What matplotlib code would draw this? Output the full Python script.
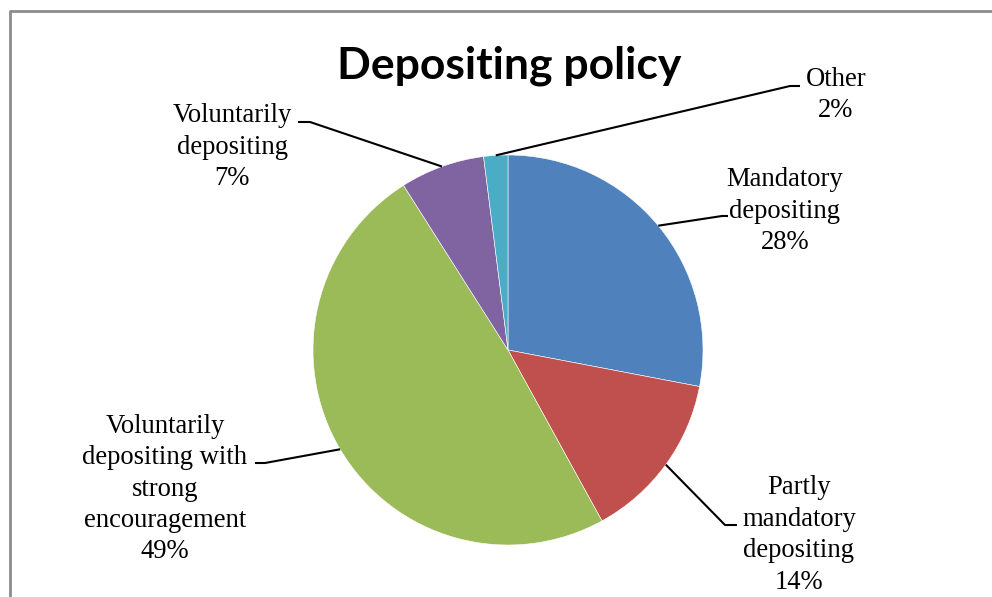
import numpy as np
import matplotlib
matplotlib.use("Agg")
import matplotlib.pyplot as plt
from matplotlib.lines import Line2D

# ---- data ----
categories = ["Mandatory\ndepositing", "Partly\nmandatory\ndepositing",
              "Voluntarily\ndepositing with\nstrong\nencouragement",
              "Voluntarily\ndepositing", "Other"]
values = [28, 14, 49, 7, 2]
colors = ["#4F81BD", "#C0504D", "#9BBB59", "#8064A2", "#4BACC6"]
title = "Depositing policy"

# ---- layout (pixel space, y up) ----
W, H = 992, 597
fig = plt.figure(figsize=(W / 100, H / 100), dpi=100)
ax = fig.add_axes([0, 0, 1, 1])

cx, cy, R = 508, H - 350, 195
wedges, _ = ax.pie(values, colors=colors, startangle=90, counterclock=False,
                   center=(cx, cy), radius=R, frame=True,
                   wedgeprops=dict(linewidth=0.4, edgecolor="white"))
ax.set_xlim(0, W)
ax.set_ylim(0, H)
ax.set_aspect("equal")
ax.axis("off")

# label text positions (center), elbow point, elbow end
label_pos = [
    dict(text=(785, H - 211), elbow=(722, H - 216), end=(728, H - 216)),
    dict(text=(799, H - 535), elbow=(725, H - 525), end=(737, H - 525)),
    dict(text=(165, H - 489), elbow=(265, H - 463), end=(255, H - 463)),
    dict(text=(232, H - 147), elbow=(310, H - 122), end=(298, H - 122)),
    dict(text=(836, H - 95), elbow=(790, H - 86), end=(800, H - 86)),
]

cum = np.cumsum([0] + values) / sum(values)
for i, (cat, v) in enumerate(zip(categories, values)):
    mid = (cum[i] + cum[i + 1]) / 2
    ang = np.deg2rad(90 - 360 * mid)
    sx, sy = cx + R * np.cos(ang), cy + R * np.sin(ang)
    lp = label_pos[i]
    ax.plot([sx, lp["elbow"][0], lp["end"][0]], [sy, lp["elbow"][1], lp["end"][1]],
            color="black", lw=1.5, solid_capstyle="butt")
    ax.text(lp["text"][0], lp["text"][1], f"{cat}\n{v}%", ha="center", va="center",
            family="Liberation Serif", fontsize=19.2, linespacing=1.34, color="black")

ax.text(509, H - 66, title, ha="center", va="center", family="Lato",
        fontweight="bold", fontsize=32, color="black")

# outer chart frame (extends past right/bottom edges)
fig.add_artist(Line2D([W + 10, 9.5, 9.5], [H - 11, H - 11, -10],
                      transform=ax.transData, color="#8C8C8C", lw=2))

fig.savefig("out.png", dpi=100)
